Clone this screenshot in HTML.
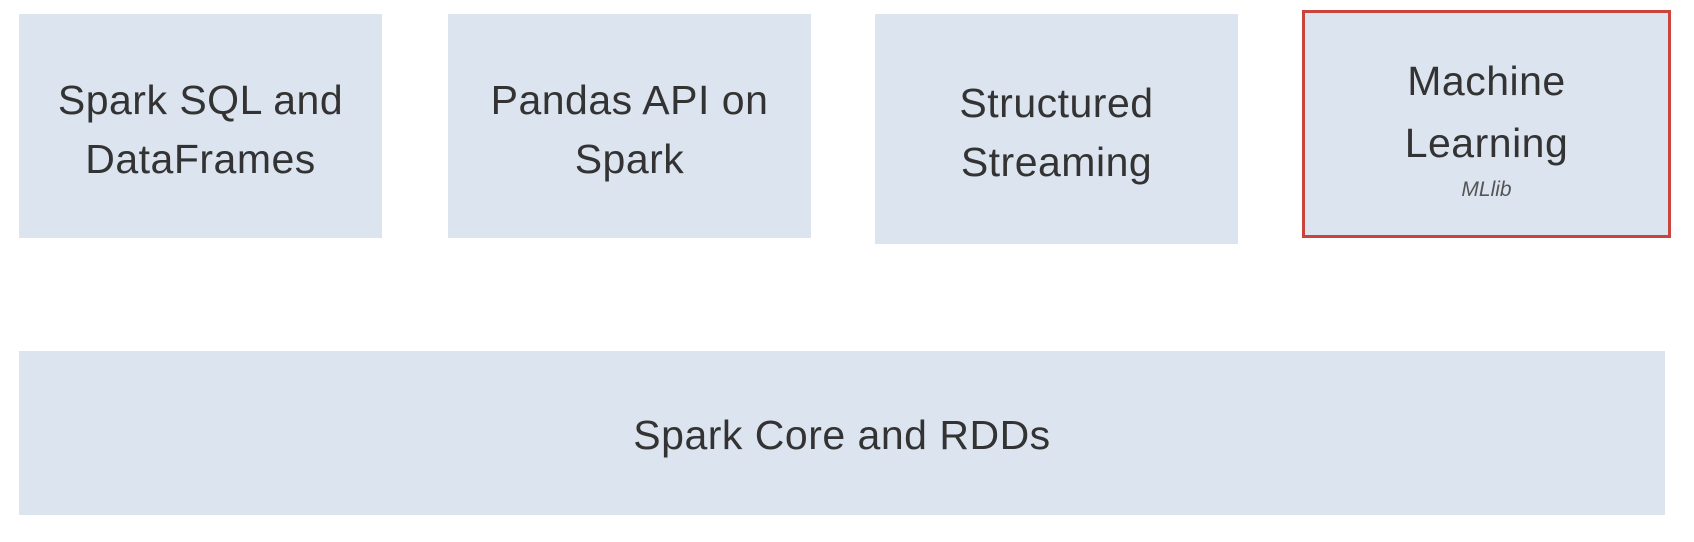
<!DOCTYPE html>
<html><head><meta charset="utf-8"><style>
body{margin:0;width:1694px;height:542px;background:#fff;position:relative;overflow:hidden;font-family:"Liberation Sans",sans-serif;color:#333;}
.b{position:absolute;background:#dce4f0;display:flex;flex-direction:column;align-items:center;justify-content:center;text-align:center;font-size:41px;line-height:59px;letter-spacing:0.5px;}
.r{border:3px solid #c9443c;box-sizing:border-box;}
.s{font-size:21px;font-style:italic;color:#555;line-height:32px;letter-spacing:0;}
</style></head><body>
<div class="b" style="left:19px;top:14px;width:363px;height:224px;padding-top:8px;box-sizing:border-box;">Spark SQL and<br>DataFrames</div>
<div class="b" style="left:448px;top:14px;width:363px;height:224px;padding-top:8px;box-sizing:border-box;">Pandas API on<br>Spark</div>
<div class="b" style="left:875px;top:14px;width:363px;height:230px;padding-top:8px;box-sizing:border-box;">Structured<br>Streaming</div>
<div class="b r" style="left:1302px;top:10px;width:369px;height:228px;padding-top:8px;"><div style="line-height:62px">Machine<br>Learning</div><div class="s">MLlib</div></div>
<div class="b" style="left:19px;top:351px;width:1646px;height:164px;padding-top:4px;box-sizing:border-box;">Spark Core and RDDs</div>
</body></html>
